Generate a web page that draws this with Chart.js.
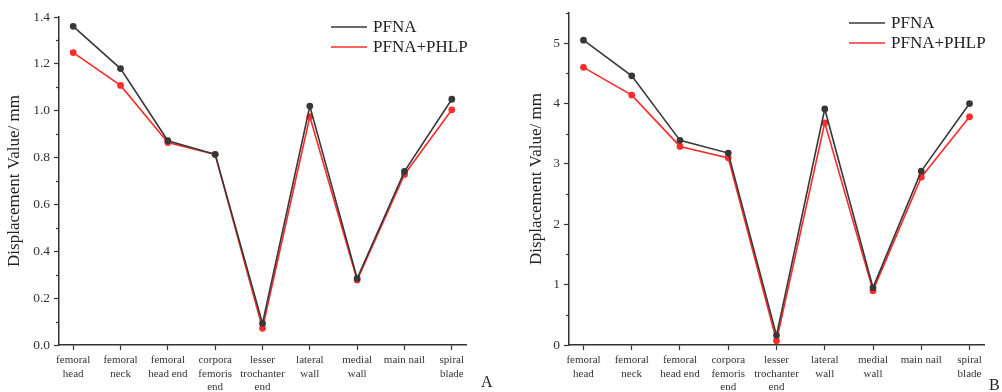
<!DOCTYPE html>
<html>
<head>
<meta charset="utf-8">
<script src="https://cdn.jsdelivr.net/npm/chart.js@4.4.1/dist/chart.umd.min.js"></script>
<style>
    body { margin: 0; background: #fff; width: 1002px; height: 392px; overflow: hidden; position: relative; font-family: "Liberation Serif", serif; }
    .panel { position: absolute; top: 0; height: 392px; }
    .tag { position: absolute; font-size: 16px; color: #222; }
</style>
</head>
<body>
<div class="panel" style="left:0;width:500px"><canvas id="chartA" width="500" height="392"></canvas></div>
<div class="panel" style="left:500px;width:502px"><canvas id="chartB" width="502" height="392"></canvas></div>
<div class="tag" style="left:481px;top:373px">A</div>
<div class="tag" style="left:989px;top:376px">B</div>
<script>
// Categories (multi-line tick labels)
const categories = [
    ['femoral', 'head'],
    ['femoral', 'neck'],
    ['femoral', 'head end'],
    ['corpora', 'femoris', 'end'],
    ['lesser', 'trochanter', 'end'],
    ['lateral', 'wall'],
    ['medial', 'wall'],
    ['main nail'],
    ['spiral', 'blade']
];

const seriesNames = ['PFNA', 'PFNA+PHLP'];

// Panel A values
const pfnaA = [1.36, 1.18, 0.872, 0.814, 0.092, 1.02, 0.284, 0.741, 1.049];
const phlpA = [1.248, 1.108, 0.864, 0.813, 0.071, 0.975, 0.277, 0.728, 1.004];
const yTicksA = [0, 0.2, 0.4, 0.6, 0.8, 1.0, 1.2, 1.4];

// Panel B values
const pfnaB = [5.05, 4.46, 3.39, 3.18, 0.16, 3.91, 0.95, 2.88, 4.0];
const phlpB = [4.6, 4.14, 3.29, 3.1, 0.07, 3.68, 0.9, 2.78, 3.78];
const yTicksB = [0, 1, 2, 3, 4, 5];

const axisColor = '#333';
const colors = ['#383838', '#ff2b2b'];

// minor ticks between the major ones + legend drawn at the top right
const extrasPlugin = {
    id: 'extras',
    afterDraw(chart) {
        const ctx = chart.ctx;
        const y = chart.scales.y;
        const majors = y.ticks.map(t => t.value);
        const step = majors[1] - majors[0];
        ctx.save();
        ctx.strokeStyle = axisColor;
        ctx.lineWidth = 1.2;
        for (let v = majors[0] + step / 2; v <= y.max + 1e-9; v += step) {
            const py = Math.round(y.getPixelForValue(v)) + 0.5;
            ctx.beginPath();
            ctx.moveTo(chart.chartArea.left - 3, py);
            ctx.lineTo(chart.chartArea.left, py);
            ctx.stroke();
        }
        // legend
        const right = chart.chartArea.right;
        const top = chart.chartArea.top;
        ctx.font = '17px "Liberation Serif", serif';
        ctx.textBaseline = 'middle';
        chart.data.datasets.forEach((ds, i) => {
            const ly = top + 10 + i * 20;
            ctx.strokeStyle = ds.borderColor;
            ctx.lineWidth = 1.6;
            ctx.beginPath();
            ctx.moveTo(right - 135, ly);
            ctx.lineTo(right - 99, ly);
            ctx.stroke();
            ctx.fillStyle = '#222';
            ctx.fillText(ds.label, right - 93, ly + 1);
        });
        ctx.restore();
    }
};

function makeChart(id, values, yTicks, yMax, fmt, pad, yWidth) {
    const ctx = document.getElementById(id).getContext('2d');
    return new Chart(ctx, {
        type: 'line',
        data: {
            datasets: values.map((vals, i) => ({
                label: seriesNames[i],
                data: vals.map((v, j) => ({ x: j, y: v })),
                borderColor: colors[i],
                backgroundColor: colors[i],
                borderWidth: 1.6,
                pointRadius: 2.6,
                pointHoverRadius: 2.6,
                tension: 0
            }))
        },
        options: {
            responsive: false,
            animation: false,
            layout: { padding: pad },
            plugins: {
                legend: { display: false },
                tooltip: { enabled: false }
            },
            scales: {
                x: {
                    type: 'linear',
                    min: -0.3,
                    max: 8.3,
                    afterBuildTicks: s => { s.ticks = categories.map((c, i) => ({ value: i })); },
                    afterFit: s => { s.height = 47; },
                    border: { color: axisColor, width: 1.5 },
                    grid: { drawOnChartArea: false, drawTicks: true, tickLength: 5, color: axisColor, tickWidth: 1.2 },
                    ticks: {
                        autoSkip: false,
                        maxRotation: 0,
                        padding: 4,
                        color: '#333',
                        font: { family: '"Liberation Serif", serif', size: 11, lineHeight: 1.2 },
                        callback: v => categories[Math.round(v)]
                    }
                },
                y: {
                    min: 0,
                    max: yMax,
                    afterBuildTicks: s => { s.ticks = yTicks.map(v => ({ value: v })); },
                    afterFit: s => { s.width = yWidth; },
                    border: { color: axisColor, width: 1.5 },
                    grid: { drawOnChartArea: false, drawTicks: true, tickLength: 5, color: axisColor, tickWidth: 1.2 },
                    ticks: {
                        padding: 4,
                        color: '#333',
                        font: { family: '"Liberation Serif", serif', size: 13.5 },
                        callback: fmt
                    },
                    title: {
                        display: true,
                        text: 'Displacement Value/ mm',
                        color: '#222',
                        font: { family: '"Liberation Serif", serif', size: 17 }
                    }
                }
            }
        },
        plugins: [extrasPlugin]
    });
}

makeChart('chartA', [pfnaA, phlpA], yTicksA, 1.4, v => v.toFixed(1),
    { left: 0, top: 17, right: 34, bottom: 0 }, 59);
makeChart('chartB', [pfnaB, phlpB], yTicksB, 5.5, v => String(v),
    { left: 22, top: 13, right: 18, bottom: 0 }, 47);
</script>
</body>
</html>
